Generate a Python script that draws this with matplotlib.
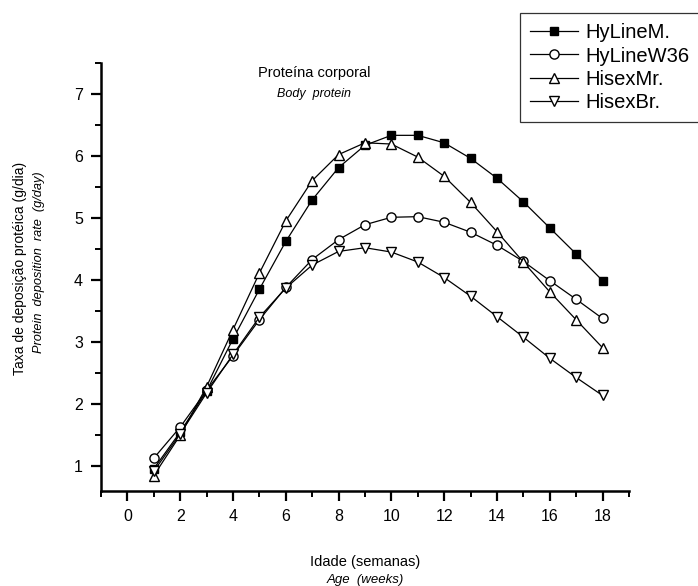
import numpy as np
import matplotlib
matplotlib.use('Agg')
import matplotlib.pyplot as plt
from matplotlib.ticker import MultipleLocator

plt.rcParams['font.family'] = ['Liberation Sans', 'DejaVu Sans']

weeks = np.arange(1, 19)
hyline_m = [0.96, 1.55, 2.21, 3.05, 3.85, 4.62, 5.29, 5.81, 6.17, 6.33, 6.33, 6.21,
            5.96, 5.64, 5.26, 4.84, 4.42, 3.99]
hyline_w36 = [1.13, 1.63, 2.22, 2.78, 3.36, 3.88, 4.33, 4.65, 4.89, 5.01, 5.02, 4.93,
              4.77, 4.56, 4.3, 3.99, 3.69, 3.38]
hisex_mr = [0.85, 1.5, 2.28, 3.2, 4.11, 4.95, 5.6, 6.02, 6.21, 6.19, 5.98, 5.67,
            5.25, 4.78, 4.29, 3.81, 3.36, 2.91]
hisex_br = [0.92, 1.52, 2.18, 2.8, 3.4, 3.87, 4.24, 4.46, 4.52, 4.45, 4.29, 4.04,
            3.74, 3.41, 3.08, 2.74, 2.43, 2.14]
labels = ['HyLineM.', 'HyLineW36', 'HisexMr.', 'HisexBr.']

W, H = 698, 586
fig = plt.figure(figsize=(W / 100, H / 100), dpi=100)
ax = fig.add_axes([0.1447, 0.162, 0.7563, 0.731])

ax.plot(weeks, hyline_m, 'k-', lw=0.9, marker='s', ms=6.3, mfc='black', mec='black', label=labels[0])
ax.plot(weeks, hyline_w36, 'k-', lw=0.9, marker='o', ms=6.6, mfc='white', mec='black', mew=1, label=labels[1])
ax.plot(weeks, hisex_mr, 'k-', lw=0.9, marker='^', ms=7.5, mfc='white', mec='black', mew=1, label=labels[2])
ax.plot(weeks, hisex_br, 'k-', lw=0.9, marker='v', ms=7.5, mfc='white', mec='black', mew=1, label=labels[3])

ax.set_xlim(-1, 19)
ax.set_ylim(0.6, 7.5)
ax.xaxis.set_major_locator(MultipleLocator(2))
ax.xaxis.set_minor_locator(MultipleLocator(1))
ax.yaxis.set_major_locator(MultipleLocator(1))
ax.yaxis.set_minor_locator(MultipleLocator(0.5))
ax.spines['top'].set_visible(False)
ax.spines['right'].set_visible(False)
for s in ['left', 'bottom']:
    ax.spines[s].set_linewidth(1.8)
ax.tick_params(which='major', direction='out', length=7, width=1.6, labelsize=11.5, pad=6)
ax.tick_params(which='minor', direction='out', length=4, width=1.4)

# pixel positions (from top-left) -> figure fraction
def fpos(px, py):
    return px / W, 1 - py / H

fig.text(*fpos(314, 73), 'Proteína corporal', fontsize=10.5, ha='center', va='center')
fig.text(*fpos(314, 94), 'Body  protein', fontsize=9, style='italic', ha='center', va='center')

fig.text(*fpos(20, 268), 'Taxa de deposição protéica (g/dia)', rotation=90,
         fontsize=10, ha='center', va='center')
fig.text(*fpos(39, 262), 'Protein  deposition  rate  (g/day)', rotation=90,
         fontsize=9.2, style='italic', ha='center', va='center')
fig.text(*fpos(365, 562), 'Idade (semanas)', fontsize=10.5, ha='center', va='center')
fig.text(*fpos(365, 580), 'Age  (weeks)', fontsize=9.5, style='italic', ha='center', va='center')

leg = ax.legend(loc='upper left', bbox_to_anchor=fpos(520, 13),
                bbox_transform=fig.transFigure, fontsize=14.5, frameon=True,
                fancybox=False, edgecolor='black', handlelength=2.4,
                handletextpad=0.35, borderpad=0.5, labelspacing=0.22, borderaxespad=0)
leg.get_frame().set_linewidth(0.9)

fig.savefig('out.png', dpi=100)
